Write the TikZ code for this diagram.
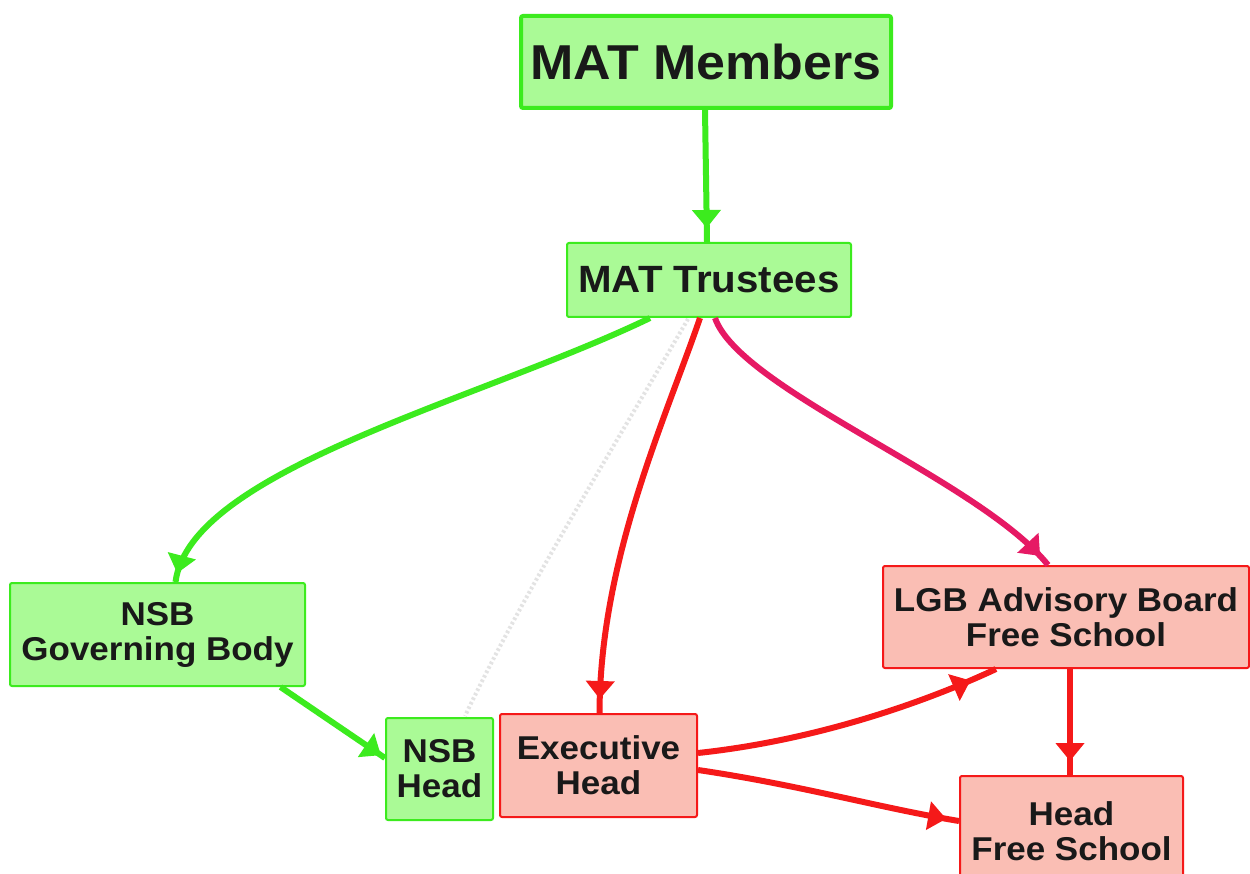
\documentclass[tikz,border=0pt]{standalone}
\usepackage{fontspec}
\setmainfont[FakeStretch=1.06]{Liberation Sans}
\usetikzlibrary{arrows.meta,decorations.markings}
\definecolor{gline}{RGB}{60,235,30}
\definecolor{gfill}{RGB}{170,250,150}
\definecolor{rline}{RGB}{245,25,25}
\definecolor{rfill}{RGB}{250,190,180}
\definecolor{crim}{RGB}{230,25,100}
\definecolor{txt}{RGB}{25,25,25}
\tikzset{
  box/.style={rectangle, rounded corners=2pt, inner sep=0pt, align=center, text=txt,
     font=\fontsize{33}{35}\selectfont\bfseries, line width=2pt},
  gbox/.style={box, draw=gline, fill=gfill},
  rbox/.style={box, draw=rline, fill=rfill},
  conn/.style={line width=6pt, postaction={decorate},
     decoration={markings, mark=at position #1 with {\arrow{Triangle[length=18pt,width=28pt]}}}},
  gconn/.style={conn=#1, draw=gline},
  rconn/.style={conn=#1, draw=rline},
  cconn/.style={conn=#1, draw=crim},
}
\begin{document}
\begin{tikzpicture}[x=1pt,y=-1pt]
\useasboundingbox (0,0) rectangle (1250,874);
\clip (0,0) rectangle (1250,874);
\fill[white] (0,0) rectangle (1250,874);

% faint dotted line
\coordinate (f1) at (688,319);
\coordinate (f2) at (465,716);
\draw[gray!22, line width=4pt, dash pattern=on 2.5pt off 2.5pt] (f1) .. controls (600,470) and (520,600) .. (f2);

\node[gbox, line width=4pt, minimum width=370pt, minimum height=92pt,
      font=\fontsize{49}{52}\selectfont\bfseries] (mem) at (706,62) {MAT Members};
\node[gbox, minimum width=284pt, minimum height=74pt,
      font=\fontsize{38}{40}\selectfont\bfseries] (tru) at (709,280) {MAT Trustees};
\node[gbox, minimum width=295pt, minimum height=103pt] (gb) at (157.5,634.5) {NSB\\Governing Body};
\node[gbox, minimum width=107pt, minimum height=102pt] (nh) at (439.5,769) {NSB\\Head};
\node[rbox, minimum width=197pt, minimum height=103pt] (eh) at (598.5,765.5) {Executive\\Head};
\node[rbox, minimum width=366pt, minimum height=102pt] (lgb) at (1066,617) {LGB Advisory Board\\Free School};
\node[rbox, minimum width=223pt, minimum height=110pt] (hfs) at (1071.5,831) {Head\\Free School};

% connectors
\draw[gconn=-14pt] ([xshift=-1pt]mem.south) -- ([xshift=-2pt]tru.north);
\draw[gconn=-9pt] ([xshift=-59pt]tru.south) .. controls (480,400) and (190,470) .. ([xshift=18pt]gb.north);
\draw[rconn=-14pt] ([xshift=-9pt]tru.south) .. controls (665,420) and (600,560) .. ([xshift=1pt]eh.north);
\draw[cconn=-12pt] ([xshift=6pt]tru.south) .. controls (740,390) and (980,480) .. ([xshift=-18pt]lgb.north);
\draw[gconn=-5pt] ([xshift=123pt]gb.south) -- ([yshift=11pt]nh.west);
\draw[rconn=-28pt] ([yshift=12.5pt]eh.east) .. controls (820,740) and (930,700) .. ([xshift=-70pt]lgb.south);
\draw[rconn=-13pt] ([yshift=-4.5pt]eh.east) .. controls (800,785) and (880,808) .. ([yshift=10pt]hfs.west);
\draw[rconn=-14pt] ([xshift=4pt]lgb.south) -- ([xshift=-1.5pt]hfs.north);
\end{tikzpicture}
\end{document}
